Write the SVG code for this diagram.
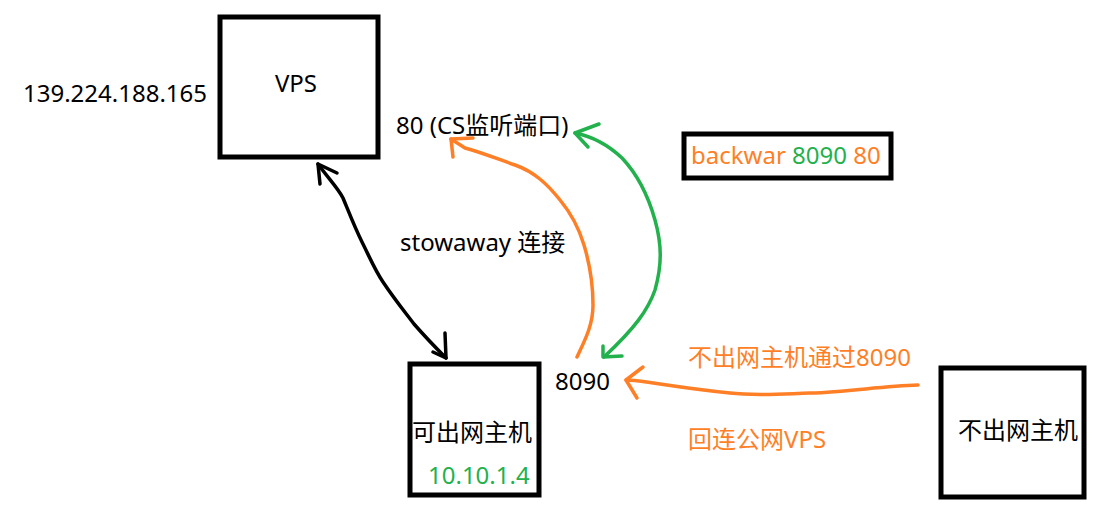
<svg xmlns="http://www.w3.org/2000/svg" width="1119" height="528" viewBox="0 0 1119 528">
<style>
.box{fill:none;stroke:#000;stroke-width:5}
.t{font-family:"Noto Sans","Noto Sans CJK SC",sans-serif;font-size:24px}
.k{fill:#000}.o{fill:#ff7f27}.g{fill:#22b14c}
.ln{fill:none;stroke-width:3.5;stroke-linecap:round;stroke-linejoin:round}
</style>
<rect width="1119" height="528" fill="#fff"/>
<g id="vps">
<rect class="box" x="220" y="17" width="158" height="140"/>
<text class="t k" x="296" y="92" text-anchor="middle">VPS</text>
</g>
<text class="t k" x="23" y="102">139.224.188.165</text>
<g id="host-out">
<rect class="box" x="410" y="364" width="129" height="131"/>
<text class="t k" x="472" y="441" text-anchor="middle">可出网主机</text>
<text class="t g" x="428" y="484">10.10.1.4</text>
</g>
<g id="host-in">
<rect class="box" x="941" y="368" width="143" height="129"/>
<text class="t k" x="958" y="439">不出网主机</text>
</g>
<g id="cmd">
<rect class="box" x="684" y="134" width="207" height="44"/>
<text class="t" x="691" y="164"><tspan class="o">backwar </tspan><tspan class="g">8090 </tspan><tspan class="o">80</tspan></text>
</g>
<text class="t k" x="396" y="134">80 (CS监听端口)</text>
<text class="t k" x="400" y="251">stowaway 连接</text>
<text class="t k" x="555" y="390">8090</text>
<text class="t o" x="688" y="366">不出网主机通过8090</text>
<text class="t o" x="688" y="448">回连公网VPS</text>
<g id="connectors">
<path class="ln" stroke="#000" d="M318,164 C328,178 338,188 343,198 C350,215 355,228 362,242 C370,258 375,270 383,282 C395,300 405,312 414,324 C428,340 438,350 446,358"/>
<path class="ln" stroke="#000" d="M320,184 L318,164 L337,173"/>
<path class="ln" stroke="#000" d="M445,333 L446,358 L433,352"/>
<path class="ln" stroke="#ff7f27" d="M577,357 C585,340 593,325 593,305 C593,285 590,265 584,245 C578,225 570,212 560,200 C548,185 535,172 515,165 C495,158 480,152 465,148 L451,139"/>
<path class="ln" stroke="#ff7f27" d="M453,157 L451,139 L473,138"/>
<path class="ln" stroke="#22b14c" d="M575,133 C590,136 605,142 622,158 C638,175 648,195 655,220 C662,245 662,265 655,290 C648,310 635,328 604,357"/>
<path class="ln" stroke="#22b14c" d="M599,124 L575,133 L588,147"/>
<path class="ln" stroke="#22b14c" d="M603,346 L603,357 L622,356"/>
<path class="ln" stroke="#ff7f27" d="M918,385 C880,386 850,392 810,393 C780,394 755,396 730,393 C700,390 680,387 660,384 C645,382 635,380 626,380"/>
<path class="ln" stroke="#ff7f27" d="M643,367 L626,380 L637,398"/>
</g>
</svg>
